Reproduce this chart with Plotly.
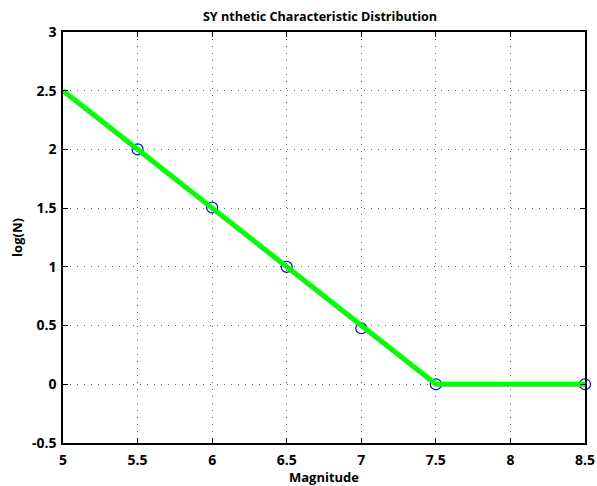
import plotly.graph_objects as go

line_x = [5, 7.5, 8.5]
line_y = [2.5, 0, 0]
pt_x = [5.5, 6, 6.5, 7, 7.5, 8.5]
pt_y = [2.0, 1.505, 1.0, 0.477, 0.0, 0.0]
x_ticks = [5, 5.5, 6, 6.5, 7, 7.5, 8, 8.5]
x_labels = ["5", "5.5", "6", "6.5", "7", "7.5", "8", "8.5"]
y_ticks = [-0.5, 0, 0.5, 1, 1.5, 2, 2.5, 3]
y_labels = ["-0.5", "0", "0.5", "1", "1.5", "2", "2.5", "3"]

fig = go.Figure()
fig.add_trace(go.Scatter(x=pt_x, y=pt_y, mode="markers", cliponaxis=False,
                         marker=dict(symbol="circle-open", size=11, color="#0000ff", line=dict(width=1.2)),
                         showlegend=False))
fig.add_trace(go.Scatter(x=line_x, y=line_y, mode="lines", cliponaxis=False,
                         line=dict(color="#00ff00", width=5), showlegend=False))

font_fam = "Open Sans"
fig.update_layout(
    width=597, height=486,
    margin=dict(l=63, r=12, t=32, b=43, autoexpand=False),
    paper_bgcolor="white", plot_bgcolor="white",
    title=dict(text="<b>SY nthetic Characteristic Distribution</b>", x=0.536, xanchor="center",
               y=0.975, yanchor="top", font=dict(family=font_fam, size=12.6, color="black")),
    font=dict(family=font_fam, color="black"),
)
axis_common = dict(showline=True, linecolor="black", linewidth=1.5, mirror="ticks",
                   ticks="inside", ticklen=5, tickcolor="black", tickwidth=1,
                   showgrid=True, gridcolor="#666666", griddash="1px,6px", gridwidth=1,
                   zeroline=False, automargin=False,
                   tickfont=dict(family=font_fam, size=14, color="black"))
fig.update_xaxes(range=[5, 8.5], tickvals=x_ticks, ticktext=["<b>%s</b>" % t for t in x_labels],
                 ticklabelstandoff=3,
                 title=dict(text="<b>Magnitude</b>", font=dict(family=font_fam, size=13), standoff=4),
                 **axis_common)
fig.update_yaxes(range=[-0.5, 3], tickvals=y_ticks, ticktext=["<b>%s</b>" % t for t in y_labels],
                 ticklabelstandoff=2,
                 title=dict(text="<b>log(N)</b>", font=dict(family=font_fam, size=13), standoff=6),
                 **axis_common)

fig.write_html("out.html")
